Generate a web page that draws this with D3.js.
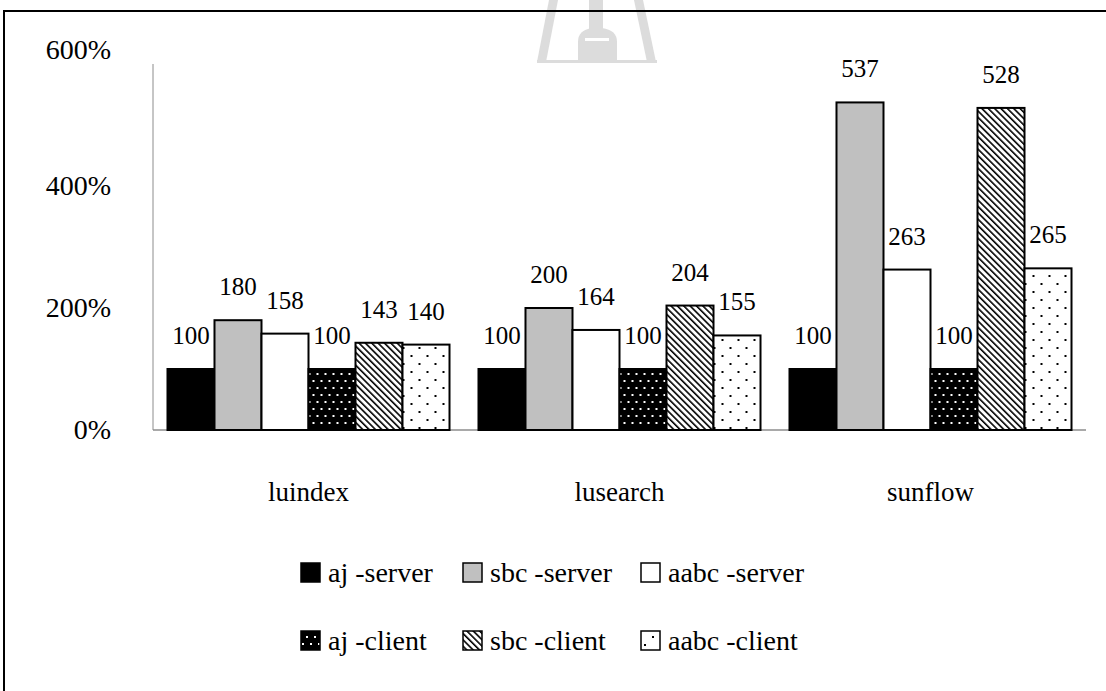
<!DOCTYPE html>
<html>
<head>
<meta charset="utf-8">
<script src="https://cdn.jsdelivr.net/npm/d3@7"></script>
<style>
  html, body { margin: 0; padding: 0; background: #fff; }
  svg { display: block; }
  svg text { font-family: "Liberation Serif", "Times New Roman", Times, serif; fill: #000; }
</style>
</head>
<body>
<svg id="chart" width="1106" height="691"></svg>
<script>
// Benchmarks and the six configurations compared on each
const categories = ["luindex", "lusearch", "sunflow"];
const seriesNames = ["aj -server", "sbc -server", "aabc -server", "aj -client", "sbc -client", "aabc -client"];

// Relative values (%) per configuration, one entry per benchmark
const ajServer   = [100, 100, 100];
const sbcServer  = [180, 200, 537];
const aabcServer = [158, 164, 263];
const ajClient   = [100, 100, 100];
const sbcClient  = [143, 204, 528];
const aabcClient = [140, 155, 265];

const yTicks = [0, 200, 400, 600];

const seriesValues = [ajServer, sbcServer, aabcServer, ajClient, sbcClient, aabcClient];
const fills = ["#000", "#c0c0c0", "#fff", "url(#dotsDark)", "url(#hatch)", "url(#dotsLight)"];

const FONT = '"Liberation Serif", "Times New Roman", Times, serif';
const svg = d3.select("#chart");

// ---- fill patterns ----
const defs = svg.append("defs");

const dotsDark = defs.append("pattern").attr("id", "dotsDark")
  .attr("patternUnits", "userSpaceOnUse").attr("width", 8).attr("height", 14);
dotsDark.append("rect").attr("width", 8).attr("height", 14).attr("fill", "#000");
[[2, 3], [6, 10]].forEach(([cx, cy]) =>
  dotsDark.append("rect").attr("x", cx - 1).attr("y", cy - 1).attr("width", 2).attr("height", 2).attr("fill", "#fff"));

const hatch = defs.append("pattern").attr("id", "hatch")
  .attr("patternUnits", "userSpaceOnUse").attr("width", 4.5).attr("height", 4.5)
  .attr("patternTransform", "rotate(-45)");
hatch.append("rect").attr("width", 4.5).attr("height", 4.5).attr("fill", "#fff");
hatch.append("rect").attr("x", 0).attr("y", 0).attr("width", 1.6).attr("height", 4.5).attr("fill", "#000");

const dotsLight = defs.append("pattern").attr("id", "dotsLight")
  .attr("patternUnits", "userSpaceOnUse").attr("width", 16).attr("height", 16);
dotsLight.append("rect").attr("width", 16).attr("height", 16).attr("fill", "#fff");
[[4, 4], [12, 12]].forEach(([cx, cy]) =>
  dotsLight.append("rect").attr("x", cx - 1).attr("y", cy - 1).attr("width", 2).attr("height", 2).attr("fill", "#000"));

// ---- faint emblem behind the chart ----
const emblem = svg.append("g").attr("fill", "#d6d6d6").attr("stroke", "none").attr("opacity", 0.85);
emblem.append("path").attr("d", "M549,0 L558,0 L546,62 L537,62 Z");
emblem.append("path").attr("d", "M634,0 L643,0 L656,62 L647,62 Z");
emblem.append("rect").attr("x", 589).attr("y", 0).attr("width", 14).attr("height", 30);
emblem.append("path").attr("d", "M578,62 L578,42 Q578,30 592,28 L602,28 Q617,30 617,42 L617,62 Z");
emblem.append("rect").attr("x", 537).attr("y", 60).attr("width", 120).attr("height", 3);
emblem.append("rect").attr("x", 585).attr("y", 38).attr("width", 24).attr("height", 3).attr("fill", "#fff");

// ---- frame ----
svg.append("line").attr("x1", 4).attr("x2", 4).attr("y1", 10).attr("y2", 691)
  .attr("stroke", "#000").attr("stroke-width", 2);
svg.append("line").attr("x1", 3).attr("x2", 1106).attr("y1", 11).attr("y2", 11)
  .attr("stroke", "#000").attr("stroke-width", 2);

// ---- scales ----
const y = d3.scaleLinear().domain([0, 600]).range([430, 64]);
const x0 = d3.scaleBand().domain(categories).range([153, 1086])
  .paddingInner(0.0932).paddingOuter(0.0466);
const x1 = d3.scaleBand().domain(d3.range(seriesNames.length)).range([0, x0.bandwidth()]);

// ---- axes ----
const yAxis = svg.append("g").attr("transform", "translate(153,0)")
  .call(d3.axisLeft(y).tickValues(yTicks).tickFormat(d => d + "%").tickSize(0).tickPadding(42));
yAxis.attr("font-family", null).attr("font-size", null);
yAxis.select(".domain").remove();
// the top label sits a little above the end of the axis line
yAxis.selectAll("text")
  .style("font-family", FONT).style("font-size", "28px").attr("fill", "#000")
  .attr("dy", d => d === d3.max(yTicks) ? "-0.2em" : "0.32em");

svg.append("line").attr("x1", 153).attr("x2", 153).attr("y1", y(600)).attr("y2", y(0))
  .attr("stroke", "#8c8c8c").attr("stroke-width", 1);
svg.append("line").attr("x1", 153).attr("x2", 1086).attr("y1", y(0)).attr("y2", y(0))
  .attr("stroke", "#8c8c8c").attr("stroke-width", 1.5);

// ---- bars ----
const groups = svg.append("g").selectAll("g").data(categories).join("g")
  .attr("transform", d => `translate(${x0(d)},0)`);

groups.selectAll("rect")
  .data((c, ci) => seriesValues.map((vals, si) => ({ si, v: vals[ci] })))
  .join("rect")
  .attr("x", d => x1(d.si))
  .attr("width", x1.bandwidth())
  .attr("y", d => y(d.v))
  .attr("height", d => y(0) - y(d.v))
  .attr("fill", d => fills[d.si])
  .attr("stroke", "#000").attr("stroke-width", 2);

groups.selectAll("text.val")
  .data((c, ci) => seriesValues.map((vals, si) => ({ si, v: vals[ci] })))
  .join("text").attr("class", "val")
  .attr("x", d => x1(d.si) + x1.bandwidth() / 2)
  .attr("y", d => y(d.v) - 25)
  .attr("text-anchor", "middle")
  .style("font-family", FONT).style("font-size", "25px")
  .text(d => d.v);

// ---- category labels ----
svg.append("g").selectAll("text").data(categories).join("text")
  .attr("x", d => x0(d) + x0.bandwidth() / 2)
  .attr("y", 501)
  .attr("text-anchor", "middle")
  .style("font-family", FONT).style("font-size", "27px")
  .text(d => d);

// ---- legend ----
const legendCols = [301, 463, 641];
const legendRows = [573, 641];
const legend = svg.append("g").selectAll("g").data(seriesNames).join("g")
  .attr("transform", (d, i) => `translate(${legendCols[i % 3]},${legendRows[Math.floor(i / 3)]})`);
legend.append("rect").attr("x", 0).attr("y", -10).attr("width", 19).attr("height", 19)
  .attr("fill", (d, i) => fills[i]).attr("stroke", "#000").attr("stroke-width", 1.5);
legend.append("text").attr("x", 27).attr("y", 9)
  .style("font-family", FONT).style("font-size", "28px")
  .text(d => d);
</script>
</body>
</html>
